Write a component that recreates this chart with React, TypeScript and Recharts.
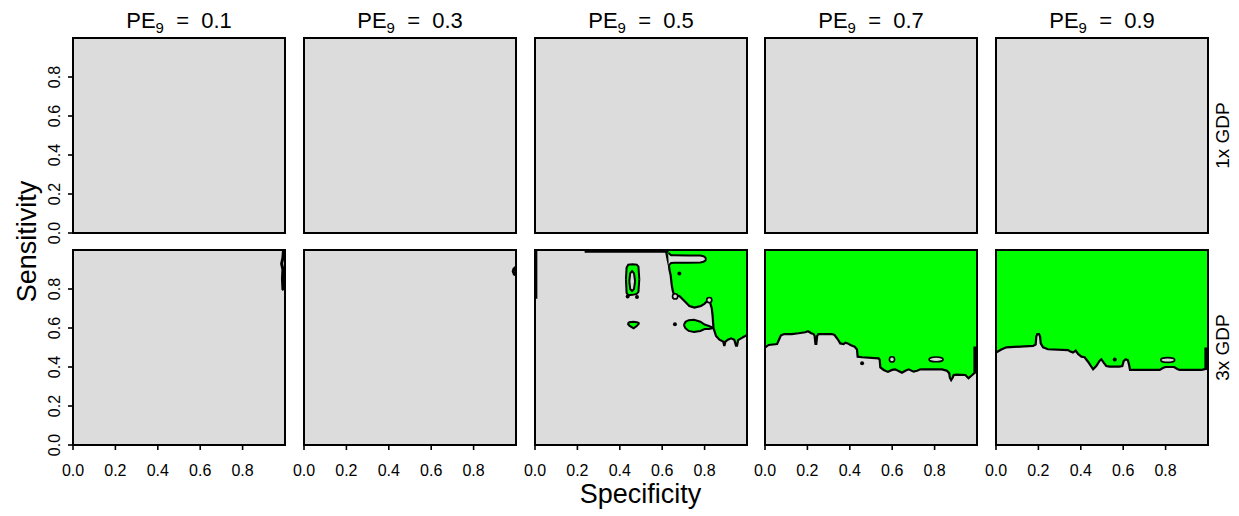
import React from 'react';
import { ComposedChart, Area, Scatter, XAxis, YAxis, CartesianGrid, ReferenceArea } from 'recharts';

// ---------- labels ----------
const PE_VALUES = ['0.1', '0.3', '0.5', '0.7', '0.9'];
const GDP_LABELS = ['1x GDP', '3x GDP'];
const X_TICKS = [0, 0.2, 0.4, 0.6, 0.8];
const Y_TICKS = [0, 0.2, 0.4, 0.6, 0.8];
const X_TITLE = 'Specificity';
const Y_TITLE = 'Sensitivity';

// ---------- contour data (Specificity x, Sensitivity y) ----------
// 3x GDP, PE9 = 0.1 : contour hugging right edge
const P1_EDGE_X = [0.993, 0.99, 0.984, 0.99, 0.988, 0.99, 0.995];
const P1_EDGE_Y = [1.0, 0.96, 0.93, 0.9, 0.85, 0.8, 0.795];

// 3x GDP, PE9 = 0.3 : small blob at right edge
const P2_BLOB_X = [1.0, 0.99, 0.987, 0.992, 1.0];
const P2_BLOB_Y = [0.912, 0.902, 0.89, 0.876, 0.872];

// 3x GDP, PE9 = 0.5 : green region lower edge (upper edge is the top of panel)
const P3_GREEN_X = [0.618, 0.626, 0.632, 0.634, 0.640, 0.645, 0.650, 0.657, 0.681, 0.705, 0.728, 0.752, 0.783, 0.800, 0.814, 0.826, 0.834, 0.838, 0.842, 0.854, 0.870, 0.880, 0.888, 0.893, 0.898, 0.910, 0.925, 0.940, 0.948, 0.953, 0.958, 0.972, 0.987, 1.0];
const P3_GREEN_Y = [0.995, 0.95, 0.92, 0.90, 0.87, 0.82, 0.79, 0.768, 0.764, 0.738, 0.713, 0.705, 0.713, 0.725, 0.74, 0.73, 0.70, 0.66, 0.60, 0.559, 0.54, 0.535, 0.53, 0.508, 0.53, 0.54, 0.547, 0.54, 0.51, 0.51, 0.538, 0.547, 0.556, 0.565];
// gray tongue reaching into the green region
const P3_FINGER_X = [0.630, 0.642, 0.66, 0.72, 0.78, 0.795, 0.803, 0.807];
const P3_FINGER_LO = [0.92, 0.933, 0.935, 0.935, 0.936, 0.94, 0.945, 0.953];
const P3_FINGER_HI = [0.985, 0.973, 0.973, 0.972, 0.972, 0.968, 0.962, 0.953];
// green lobe under the main region
const P3_LOBE_X = [0.702, 0.71, 0.725, 0.75, 0.78, 0.80, 0.82, 0.842];
const P3_LOBE_LO = [0.615, 0.598, 0.585, 0.58, 0.585, 0.595, 0.595, 0.60];
const P3_LOBE_HI = [0.615, 0.632, 0.640, 0.642, 0.632, 0.618, 0.61, 0.60];
// tall green island
const P3_ISLE_X = [0.429, 0.432, 0.44, 0.46, 0.48, 0.488, 0.492];
const P3_ISLE_LO = [0.85, 0.78, 0.768, 0.77, 0.775, 0.785, 0.85];
const P3_ISLE_HI = [0.85, 0.91, 0.925, 0.927, 0.925, 0.915, 0.85];
// gray hole inside the island
const P3_HOLE_X = [0.445, 0.449, 0.458, 0.467, 0.472];
const P3_HOLE_LO = [0.84, 0.80, 0.79, 0.80, 0.84];
const P3_HOLE_HI = [0.84, 0.88, 0.892, 0.88, 0.84];
// small green triangle
const P3_TRI_X = [0.437, 0.445, 0.465, 0.48, 0.492];
const P3_TRI_LO = [0.622, 0.612, 0.598, 0.61, 0.625];
const P3_TRI_HI = [0.622, 0.630, 0.632, 0.630, 0.625];
// contour lines along the panel edges
const P3_TOP_X = [0.234, 0.63];
const P3_TOP_Y = [0.993, 0.993];
const P3_LEFT_X = [0.004, 0.004];
const P3_LEFT_Y = [0.75, 1.0];
// tiny contour specks
const P3_DOT_X = [0.681, 0.481, 0.437, 0.660];
const P3_DOT_Y = [0.88, 0.759, 0.762, 0.619];
const P3_RING_X = [0.661, 0.822];
const P3_RING_Y = [0.762, 0.743];

// 3x GDP, PE9 = 0.7
const P4_EDGE_X = [0, 0.017, 0.057, 0.068, 0.075, 0.09, 0.127, 0.158, 0.19, 0.203, 0.218, 0.229, 0.234, 0.238, 0.242, 0.246, 0.252, 0.316, 0.328, 0.344, 0.355, 0.371, 0.379, 0.391, 0.403, 0.423, 0.434, 0.437, 0.458, 0.536, 0.541, 0.544, 0.56, 0.58, 0.599, 0.615, 0.63, 0.646, 0.662, 0.678, 0.701, 0.717, 0.733, 0.756, 0.835, 0.858, 0.869, 0.872, 0.878, 0.885, 0.89, 0.906, 0.945, 0.96, 0.972, 0.99, 1.0];
const P4_EDGE_Y = [0.50, 0.513, 0.518, 0.545, 0.562, 0.569, 0.569, 0.573, 0.578, 0.583, 0.573, 0.569, 0.560, 0.518, 0.518, 0.560, 0.569, 0.569, 0.564, 0.541, 0.521, 0.518, 0.525, 0.521, 0.513, 0.504, 0.490, 0.453, 0.450, 0.444, 0.436, 0.398, 0.385, 0.375, 0.385, 0.388, 0.379, 0.371, 0.381, 0.388, 0.376, 0.381, 0.388, 0.388, 0.388, 0.381, 0.368, 0.345, 0.333, 0.345, 0.359, 0.361, 0.359, 0.342, 0.354, 0.371, 0.376];
const P4_RIGHT_X = [0.99, 0.99];
const P4_RIGHT_Y = [0.371, 0.505];
const P4_DOT_X = [0.458];
const P4_DOT_Y = [0.419];
const P4_RING_X = [0.599];
const P4_RING_Y = [0.439];
const P4_OVAL_X = [0.807];
const P4_OVAL_Y = [0.439];

// 3x GDP, PE9 = 0.9
const P5_EDGE_X = [0, 0.025, 0.049, 0.175, 0.187, 0.190, 0.195, 0.203, 0.208, 0.211, 0.222, 0.245, 0.340, 0.351, 0.363, 0.376, 0.387, 0.403, 0.418, 0.434, 0.458, 0.473, 0.489, 0.497, 0.508, 0.520, 0.536, 0.581, 0.596, 0.602, 0.612, 0.622, 0.628, 0.632, 0.772, 0.787, 0.80, 0.84, 0.855, 0.866, 0.97, 0.99, 1.0];
const P5_EDGE_Y = [0.474, 0.49, 0.501, 0.508, 0.515, 0.556, 0.569, 0.569, 0.556, 0.521, 0.501, 0.491, 0.487, 0.479, 0.474, 0.484, 0.467, 0.453, 0.450, 0.427, 0.388, 0.405, 0.432, 0.439, 0.422, 0.405, 0.402, 0.402, 0.405, 0.43, 0.44, 0.435, 0.41, 0.385, 0.385, 0.395, 0.40, 0.40, 0.39, 0.385, 0.385, 0.39, 0.39];
const P5_RIGHT_X = [0.99, 0.99];
const P5_RIGHT_Y = [0.385, 0.50];
const P5_DOT_X = [0.56];
const P5_DOT_Y = [0.439];
const P5_OVAL_X = [0.81];
const P5_OVAL_Y = [0.436];

// ---------- styles / layout ----------
const GREEN = '#00ff00';
const GRAY = '#dcdcdc';
const FONT = "'Liberation Sans', Arial, Helvetica, sans-serif";
const PANEL_W = 212;
const PANEL_H = 195;
const PANEL_LEFTS = [73, 304, 535, 765, 996];
const PANEL_TOPS = [38, 250];
const LEFT_ROOM = 60;
const BOTTOM_ROOM = 45;
const PAD = 5;

type Upper = { x: number[]; y: number[] };
type Band = { x: number[]; lo: number[]; hi: number[]; fill: string };
type Path = { x: number[]; y: number[] };
type Marks = { x: number[]; y: number[]; kind: 'dot' | 'ring' | 'oval' };
type PanelSpec = { uppers: Upper[]; bands: Band[]; paths: Path[]; marks: Marks[] };

const EMPTY: PanelSpec = { uppers: [], bands: [], paths: [], marks: [] };

const PANELS: PanelSpec[][] = [
  [EMPTY, EMPTY, EMPTY, EMPTY, EMPTY],
  [
    { uppers: [], bands: [], paths: [{ x: P1_EDGE_X, y: P1_EDGE_Y }], marks: [] },
    { uppers: [], bands: [], paths: [{ x: P2_BLOB_X, y: P2_BLOB_Y }], marks: [] },
    {
      uppers: [{ x: P3_GREEN_X, y: P3_GREEN_Y }],
      bands: [
        { x: P3_FINGER_X, lo: P3_FINGER_LO, hi: P3_FINGER_HI, fill: GRAY },
        { x: P3_LOBE_X, lo: P3_LOBE_LO, hi: P3_LOBE_HI, fill: GREEN },
        { x: P3_ISLE_X, lo: P3_ISLE_LO, hi: P3_ISLE_HI, fill: GREEN },
        { x: P3_HOLE_X, lo: P3_HOLE_LO, hi: P3_HOLE_HI, fill: GRAY },
        { x: P3_TRI_X, lo: P3_TRI_LO, hi: P3_TRI_HI, fill: GREEN },
      ],
      paths: [{ x: P3_TOP_X, y: P3_TOP_Y }, { x: P3_LEFT_X, y: P3_LEFT_Y }],
      marks: [
        { x: P3_DOT_X, y: P3_DOT_Y, kind: 'dot' },
        { x: P3_RING_X, y: P3_RING_Y, kind: 'ring' },
      ],
    },
    {
      uppers: [{ x: P4_EDGE_X, y: P4_EDGE_Y }],
      bands: [],
      paths: [{ x: P4_RIGHT_X, y: P4_RIGHT_Y }],
      marks: [
        { x: P4_DOT_X, y: P4_DOT_Y, kind: 'dot' },
        { x: P4_RING_X, y: P4_RING_Y, kind: 'ring' },
        { x: P4_OVAL_X, y: P4_OVAL_Y, kind: 'oval' },
      ],
    },
    {
      uppers: [{ x: P5_EDGE_X, y: P5_EDGE_Y }],
      bands: [],
      paths: [{ x: P5_RIGHT_X, y: P5_RIGHT_Y }],
      marks: [
        { x: P5_DOT_X, y: P5_DOT_Y, kind: 'dot' },
        { x: P5_OVAL_X, y: P5_OVAL_Y, kind: 'oval' },
      ],
    },
  ],
];

const fmt = (v: number) => v.toFixed(1);

const XTick = (p: any) => (
  <text x={p.x} y={p.y + 18} textAnchor="middle" dominantBaseline="central" fontSize={16} fontFamily={FONT} fill="#000">
    {fmt(p.payload.value)}
  </text>
);

const YTick = (p: any) => {
  const cx = p.x - 12;
  return (
    <text x={cx} y={p.y} transform={`rotate(-90 ${cx} ${p.y})`} textAnchor="middle" dominantBaseline="central" fontSize={16} fontFamily={FONT} fill="#000">
      {fmt(p.payload.value)}
    </text>
  );
};

const NoShape = () => <g />;

const MarkShape = (kind: 'dot' | 'ring' | 'oval') => (p: any) => {
  if (kind === 'dot') return <circle cx={p.cx} cy={p.cy} r={2} fill="#000" />;
  if (kind === 'ring') return <circle cx={p.cx} cy={p.cy} r={2.6} fill={GRAY} stroke="#000" strokeWidth={1.6} />;
  return <ellipse cx={p.cx} cy={p.cy} rx={7} ry={2.4} fill={GRAY} stroke="#000" strokeWidth={1.6} />;
};

// One transparent chart layer with the panel's exact geometry.
function Layer({ row, col, data, axes, children }: { row: number; col: number; data: any[]; axes?: boolean; children?: React.ReactNode }) {
  const showY = !!axes && col === 0;
  const showX = !!axes && row === 1;
  const width = LEFT_ROOM + PANEL_W + PAD;
  const height = PAD + PANEL_H + BOTTOM_ROOM;
  return (
    <div style={{ position: 'absolute', left: PANEL_LEFTS[col] - LEFT_ROOM, top: PANEL_TOPS[row] - PAD }}>
      <ComposedChart
        width={width}
        height={height}
        data={data}
        margin={{ top: PAD, right: PAD, left: showY ? 0 : LEFT_ROOM, bottom: showX ? 0 : BOTTOM_ROOM }}
      >
        <XAxis
          dataKey="x"
          type="number"
          domain={[0, 1]}
          ticks={X_TICKS}
          allowDataOverflow
          hide={!showX}
          height={BOTTOM_ROOM}
          axisLine={false}
          tickSize={5}
          tickLine={{ stroke: '#000', strokeWidth: 1.6 }}
          tick={XTick}
          interval={0}
        />
        <YAxis
          type="number"
          domain={[0, 1]}
          ticks={Y_TICKS}
          allowDataOverflow
          hide={!showY}
          width={LEFT_ROOM}
          axisLine={false}
          tickSize={5}
          tickLine={{ stroke: '#000', strokeWidth: 1.6 }}
          tick={YTick}
          interval={0}
        />
        {children}
      </ComposedChart>
    </div>
  );
}

function Panel({ row, col }: { row: number; col: number }) {
  const spec = PANELS[row][col];
  const layers: React.ReactNode[] = [];
  layers.push(
    <Layer key="base" row={row} col={col} data={[]} axes>
      <CartesianGrid horizontal={false} vertical={false} fill={GRAY} fillOpacity={1} />
    </Layer>
  );
  spec.uppers.forEach((u, i) => {
    const rows = u.x.map((x, j) => ({ x, y: u.y[j] }));
    layers.push(
      <Layer key={`u${i}`} row={row} col={col} data={rows}>
        <Area dataKey="y" baseValue={1} type="linear" fill={GREEN} fillOpacity={1} stroke="#000" strokeWidth={2.2}
          dot={false} activeDot={false} isAnimationActive={false} />
      </Layer>
    );
  });
  spec.bands.forEach((b, i) => {
    const rows = b.x.map((x, j) => ({ x, r: [b.lo[j], b.hi[j]] }));
    layers.push(
      <Layer key={`b${i}`} row={row} col={col} data={rows}>
        <Area dataKey="r" type="linear" fill={b.fill} fillOpacity={1} stroke="#000" strokeWidth={2}
          dot={false} activeDot={false} isAnimationActive={false} />
      </Layer>
    );
  });
  spec.paths.forEach((pth, i) => {
    const rows = pth.x.map((x, j) => ({ x, y: pth.y[j] }));
    layers.push(
      <Layer key={`p${i}`} row={row} col={col} data={rows}>
        <Scatter data={rows} dataKey="y" line={{ stroke: '#000', strokeWidth: 3 }} lineType="joint" shape={NoShape} isAnimationActive={false} />
      </Layer>
    );
  });
  spec.marks.forEach((m, i) => {
    const rows = m.x.map((x, j) => ({ x, y: m.y[j] }));
    layers.push(
      <Layer key={`m${i}`} row={row} col={col} data={rows}>
        <Scatter data={rows} dataKey="y" shape={MarkShape(m.kind)} isAnimationActive={false} />
      </Layer>
    );
  });
  layers.push(
    <Layer key="frame" row={row} col={col} data={[]}>
      <ReferenceArea x1={0} x2={1} y1={0} y2={1} fill="none" stroke="#000" strokeWidth={2} ifOverflow="visible" />
    </Layer>
  );
  return <>{layers}</>;
}

export default function App() {
  const centerX = (PANEL_LEFTS[0] + PANEL_LEFTS[4] + PANEL_W) / 2;
  const centerY = (PANEL_TOPS[0] + PANEL_TOPS[1] + PANEL_H) / 2;
  return (
    <div style={{ position: 'absolute', left: 0, top: 0, width: 1239, height: 516, background: '#fff', overflow: 'hidden' }}>
      {[0, 1].map((r) => PE_VALUES.map((_, c) => <Panel key={`${r}-${c}`} row={r} col={c} />))}
      <svg width={1239} height={516} style={{ position: 'absolute', left: 0, top: 0, pointerEvents: 'none' }}>
        {PE_VALUES.map((v, c) => (
          <text key={v} x={PANEL_LEFTS[c] + PANEL_W / 2} y={28} textAnchor="middle" fontSize={22} fontFamily={FONT} fill="#000">
            PE
            <tspan fontSize={15} dy={5}>9</tspan>
            <tspan dy={-5}>{'\u00a0\u00a0=\u00a0\u00a0' + v}</tspan>
          </text>
        ))}
        {GDP_LABELS.map((g, r) => {
          const cy = PANEL_TOPS[r] + PANEL_H / 2;
          const cx = 1222;
          return (
            <text key={g} x={cx} y={cy} transform={`rotate(-90 ${cx} ${cy})`} textAnchor="middle" dominantBaseline="central" fontSize={19} fontFamily={FONT} fill="#000">
              {g}
            </text>
          );
        })}
        <text x={centerX} y={503} textAnchor="middle" fontSize={27} fontFamily={FONT} fill="#000">{X_TITLE}</text>
        <text x={27} y={centerY} transform={`rotate(-90 27 ${centerY})`} textAnchor="middle" dominantBaseline="central" fontSize={27} fontFamily={FONT} fill="#000">{Y_TITLE}</text>
      </svg>
    </div>
  );
}
